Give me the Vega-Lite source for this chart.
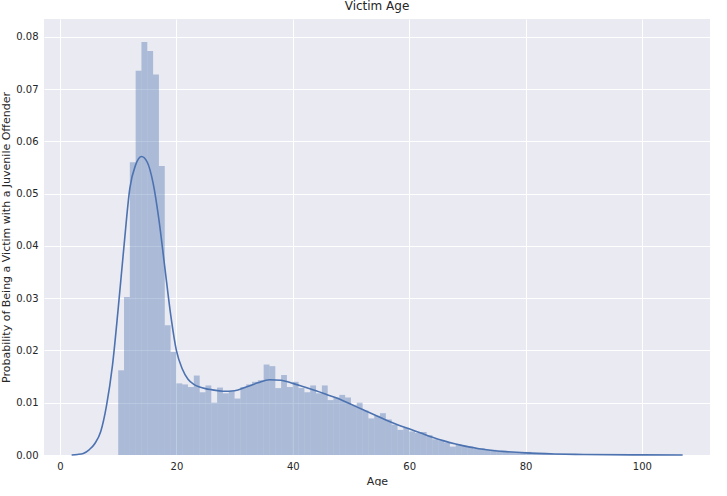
{
  "$schema": "https://vega.github.io/schema/vega-lite/v6.json",
  "width": 666,
  "height": 436,
  "padding": {"left": 0, "top": 0, "right": 0, "bottom": 0},
  "title": {"text": "Victim Age", "fontSize": 12, "fontWeight": "normal", "color": "#262626", "font": "DejaVu Sans", "offset": 6},
  "datasets": {
    "bars": [
      {"a":10,"b":11,"p":0.0162},{"a":11,"b":12,"p":0.0302},{"a":12,"b":13,"p":0.0560},{"a":13,"b":14,"p":0.0735},
      {"a":14,"b":15,"p":0.0790},{"a":15,"b":16,"p":0.0773},{"a":16,"b":17,"p":0.0728},{"a":17,"b":18,"p":0.0553},
      {"a":18,"b":19,"p":0.0248},{"a":19,"b":20,"p":0.0197},{"a":20,"b":21,"p":0.0137},{"a":21,"b":22,"p":0.0135},
      {"a":22,"b":23,"p":0.0130},{"a":23,"b":24,"p":0.0152},{"a":24,"b":25,"p":0.0120},{"a":25,"b":26,"p":0.0133},
      {"a":26,"b":27,"p":0.0100},{"a":27,"b":28,"p":0.0129},{"a":28,"b":29,"p":0.0118},{"a":29,"b":30,"p":0.0122},
      {"a":30,"b":31,"p":0.0108},{"a":31,"b":32,"p":0.0130},{"a":32,"b":33,"p":0.0135},{"a":33,"b":34,"p":0.0140},
      {"a":34,"b":35,"p":0.0143},{"a":35,"b":36,"p":0.0173},{"a":36,"b":37,"p":0.0170},{"a":37,"b":38,"p":0.0128},
      {"a":38,"b":39,"p":0.0153},{"a":39,"b":40,"p":0.0130},{"a":40,"b":41,"p":0.0140},{"a":41,"b":42,"p":0.0128},
      {"a":42,"b":43,"p":0.0120},{"a":43,"b":44,"p":0.0133},{"a":44,"b":45,"p":0.0118},{"a":45,"b":46,"p":0.0133},
      {"a":46,"b":47,"p":0.0105},{"a":47,"b":48,"p":0.0110},{"a":48,"b":49,"p":0.0115},{"a":49,"b":50,"p":0.0110},
      {"a":50,"b":51,"p":0.0095},{"a":51,"b":52,"p":0.0100},{"a":52,"b":53,"p":0.0085},{"a":53,"b":54,"p":0.0070},
      {"a":54,"b":55,"p":0.0075},{"a":55,"b":56,"p":0.0080},{"a":56,"b":57,"p":0.0068},{"a":57,"b":58,"p":0.0058},
      {"a":58,"b":59,"p":0.0048},{"a":59,"b":60,"p":0.0052},{"a":60,"b":61,"p":0.0045},{"a":61,"b":62,"p":0.0042},
      {"a":62,"b":63,"p":0.0044},{"a":63,"b":64,"p":0.0038},{"a":64,"b":65,"p":0.0030},{"a":65,"b":66,"p":0.0028},
      {"a":66,"b":67,"p":0.0024},{"a":67,"b":68,"p":0.0016},{"a":68,"b":69,"p":0.0020},{"a":69,"b":70,"p":0.0018},
      {"a":70,"b":71,"p":0.0016},{"a":71,"b":72,"p":0.0012},{"a":72,"b":73,"p":0.0013},{"a":73,"b":74,"p":0.0010},
      {"a":74,"b":75,"p":0.0010},{"a":75,"b":76,"p":0.0008},{"a":76,"b":77,"p":0.0006},{"a":77,"b":78,"p":0.0006},
      {"a":78,"b":79,"p":0.0005},{"a":79,"b":80,"p":0.0004},{"a":80,"b":81,"p":0.0006},{"a":81,"b":82,"p":0.0003},
      {"a":82,"b":83,"p":0.0003},{"a":83,"b":84,"p":0.0002},{"a":84,"b":85,"p":0.0002},{"a":85,"b":86,"p":0.0002},
      {"a":86,"b":87,"p":0.0001},{"a":87,"b":88,"p":0.0001},{"a":88,"b":89,"p":0.0001},{"a":89,"b":90,"p":0.0001},
      {"a":90,"b":91,"p":0.0001},{"a":92,"b":93,"p":0.0001},{"a":95,"b":96,"p":0.00005},{"a":99,"b":100,"p":0.00005}
    ],
    "kde": [
      {"x":2,"y":0},{"x":3,"y":0.0001},{"x":4,"y":0.0003},{"x":5,"y":0.001},{"x":6,"y":0.0022},{"x":7,"y":0.0045},
      {"x":8,"y":0.0095},{"x":9,"y":0.017},{"x":10,"y":0.028},{"x":11,"y":0.040},{"x":12,"y":0.051},{"x":13,"y":0.0555},
      {"x":14,"y":0.0571},{"x":15,"y":0.056},{"x":16,"y":0.052},{"x":17,"y":0.045},{"x":18,"y":0.036},{"x":19,"y":0.027},
      {"x":20,"y":0.020},{"x":21,"y":0.0165},{"x":22,"y":0.0145},{"x":23,"y":0.0135},{"x":24,"y":0.013},{"x":25,"y":0.0127},
      {"x":26,"y":0.0125},{"x":28,"y":0.0122},{"x":30,"y":0.0123},{"x":32,"y":0.013},{"x":34,"y":0.0138},{"x":36,"y":0.0144},
      {"x":38,"y":0.0143},{"x":40,"y":0.0137},{"x":42,"y":0.0130},{"x":44,"y":0.0123},{"x":46,"y":0.0115},{"x":48,"y":0.0107},
      {"x":50,"y":0.0097},{"x":52,"y":0.0087},{"x":54,"y":0.0077},{"x":56,"y":0.0067},{"x":58,"y":0.0058},{"x":60,"y":0.0050},
      {"x":62,"y":0.0042},{"x":64,"y":0.0034},{"x":66,"y":0.0027},{"x":68,"y":0.0021},{"x":70,"y":0.0016},{"x":72,"y":0.0012},
      {"x":74,"y":0.0009},{"x":76,"y":0.0007},{"x":80,"y":0.0004},{"x":85,"y":0.0002},{"x":90,"y":0.0001},{"x":100,"y":0.00002},
      {"x":107,"y":0}
    ]
  },
  "layer": [
    {
      "data": {"name": "bars"},
      "mark": {"type": "rect", "color": "#4C72B0", "opacity": 0.4},
      "encoding": {
        "x": {"field": "a", "type": "quantitative", "scale": {"domain": [-2.75, 111.7], "nice": false, "zero": false},
          "axis": {"title": "Age", "values": [0, 20, 40, 60, 80, 100]}},
        "x2": {"field": "b"},
        "y": {"field": "p", "type": "quantitative", "scale": {"domain": [0, 0.0834], "nice": false},
          "axis": {"title": "Probability of Being a Victim with a Juvenile Offender", "values": [0, 0.01, 0.02, 0.03, 0.04, 0.05, 0.06, 0.07, 0.08], "format": ".2f"}},
        "y2": {"datum": 0}
      }
    },
    {
      "data": {"name": "kde"},
      "mark": {"type": "line", "color": "#4C72B0", "strokeWidth": 1.6, "interpolate": "monotone"},
      "encoding": {
        "x": {"field": "x", "type": "quantitative"},
        "y": {"field": "y", "type": "quantitative"}
      }
    }
  ],
  "config": {
    "font": "DejaVu Sans",
    "view": {"fill": "#EAEAF2", "stroke": null},
    "axis": {"grid": true, "gridColor": "#FFFFFF", "gridWidth": 1, "domain": false, "ticks": false,
      "labelFontSize": 10, "labelColor": "#262626", "titleFontSize": 11, "titleColor": "#262626",
      "titleFontWeight": "normal", "labelPadding": 6, "titlePadding": 4}
  }
}
